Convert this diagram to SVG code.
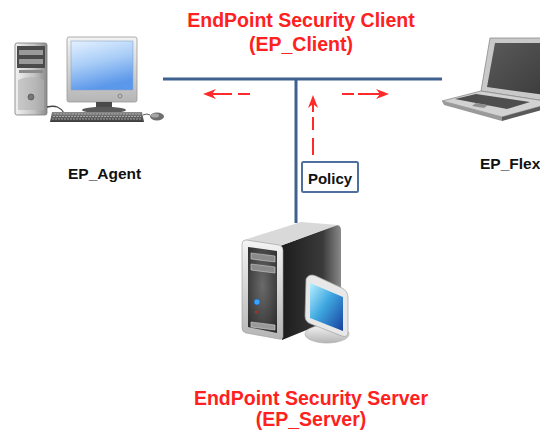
<svg xmlns="http://www.w3.org/2000/svg" width="540" height="433" viewBox="0 0 540 433">
  <style>
    .title { font-family: "Liberation Sans", Arial, sans-serif; font-weight: bold; font-size: 19.5px; fill: #ff2020; text-anchor: middle; }
    .label { font-family: "Liberation Sans", Arial, sans-serif; font-weight: bold; font-size: 15.5px; fill: #111; }
    .bus { stroke: #3f6190; stroke-width: 3; fill: none; }
    .flow { stroke: #ff2a2a; stroke-width: 2; fill: none; }
  </style>
  <defs>
    <marker id="head" viewBox="0 -6 13 12" refX="10" refY="0" markerWidth="13" markerHeight="12" markerUnits="userSpaceOnUse" orient="auto">
      <path d="M0,-5 L13,0 L0,5 L4,0 Z" fill="#ff2a2a"/>
    </marker>
    <linearGradient id="silverH" x1="0" y1="0" x2="1" y2="0">
      <stop offset="0" stop-color="#f2f2f2"/>
      <stop offset="0.6" stop-color="#c4c4c4"/>
      <stop offset="1" stop-color="#8c8c8c"/>
    </linearGradient>
    <linearGradient id="silverV" x1="0" y1="0" x2="0" y2="1">
      <stop offset="0" stop-color="#f4f4f4"/>
      <stop offset="1" stop-color="#b5b5b5"/>
    </linearGradient>
    <linearGradient id="pcScreen" x1="0" y1="0" x2="0.3" y2="1">
      <stop offset="0" stop-color="#e4f1ff"/>
      <stop offset="0.5" stop-color="#a9cdf7"/>
      <stop offset="1" stop-color="#5b97ea"/>
    </linearGradient>
    <linearGradient id="darkSide" x1="0" y1="0" x2="1" y2="0">
      <stop offset="0" stop-color="#1b1b1b"/>
      <stop offset="0.7" stop-color="#3a3a3a"/>
      <stop offset="1" stop-color="#8a8a8a"/>
    </linearGradient>
    <radialGradient id="darkFront" cx="0.5" cy="0.45" r="0.7">
      <stop offset="0" stop-color="#6a6a6a"/>
      <stop offset="1" stop-color="#2c2c2c"/>
    </radialGradient>
    <linearGradient id="lcdScreen" x1="0" y1="0" x2="1" y2="1">
      <stop offset="0" stop-color="#b8f0ff"/>
      <stop offset="0.45" stop-color="#3fa8e0"/>
      <stop offset="1" stop-color="#163f9e"/>
    </linearGradient>
    <linearGradient id="keys" x1="0" y1="0" x2="0" y2="1">
      <stop offset="0" stop-color="#8a8a8a"/>
      <stop offset="1" stop-color="#3a3a3a"/>
    </linearGradient>
    <linearGradient id="lidScreen" x1="0" y1="0" x2="1" y2="1">
      <stop offset="0" stop-color="#5a5a5a"/>
      <stop offset="1" stop-color="#3c3c3c"/>
    </linearGradient>
  </defs>

  <!-- bus lines and policy flow -->
  <g id="connectors">
    <line class="bus" x1="163" y1="79" x2="442" y2="79"/>
    <line class="bus" x1="296" y1="79" x2="296" y2="223"/>
    <path class="flow" d="M250,94 H238 M232,94 H206" marker-end="url(#head)"/>
    <path class="flow" d="M342,94 H354 M358,94 H386" marker-end="url(#head)"/>
    <path class="flow" d="M313,155 V138 M313,130 V117 M313,112 V98" marker-end="url(#head)"/>
  </g>

  <!-- titles -->
  <g id="client-title">
    <text class="title" x="301" y="27">EndPoint Security Client</text>
    <text class="title" x="301" y="51">(EP_Client)</text>
  </g>
  <g id="server-title">
    <text class="title" x="311" y="405">EndPoint Security Server</text>
    <text class="title" x="311" y="426">(EP_Server)</text>
  </g>

  <!-- policy tag -->
  <g id="policy">
    <rect x="302" y="162" width="56" height="30" rx="1.5" fill="#fff" stroke="#4f6f9f" stroke-width="2"/>
    <text class="label" x="330" y="184" text-anchor="middle" style="font-size:15px">Policy</text>
  </g>

  <!-- desktop workstation -->
  <g id="ep-agent">
    <!-- tower -->
    <rect x="15" y="43" width="32" height="72" rx="2" fill="url(#silverH)" stroke="#7a7a7a" stroke-width="0.8"/>
    <rect x="17" y="46" width="28" height="22" fill="#4b4b4b"/>
    <rect x="19" y="50" width="24" height="5" fill="#9a9a9a"/>
    <rect x="19" y="59" width="24" height="5" fill="#9a9a9a"/>
    <rect x="19" y="70" width="24" height="3" fill="#8a8a8a"/>
    <path d="M18,80 Q31,74 44,80 L44,110 L18,110 Z" fill="#b0b0b0" opacity="0.6"/>
    <circle cx="31" cy="97" r="3" fill="#777" stroke="#444" stroke-width="0.6"/>
    <!-- cable -->
    <path d="M47,107 C56,105 60,107 64,113" stroke="#444" stroke-width="1.3" fill="none"/>
    <!-- monitor -->
    <rect x="67" y="37" width="70" height="65" rx="2" fill="url(#silverV)" stroke="#9a9a9a" stroke-width="0.8"/>
    <rect x="71" y="41" width="62" height="49" fill="url(#pcScreen)" stroke="#8aa6c8" stroke-width="0.6"/>
    <circle cx="120" cy="96" r="2" fill="#bbb" stroke="#666" stroke-width="0.6"/>
    <rect x="96" y="102" width="16" height="7" fill="#4a4a4a"/>
    <ellipse cx="104" cy="110" rx="22" ry="3.2" fill="#5a5a5a"/>
    <!-- keyboard -->
    <path d="M52,112 L142,112 L144,122 L50,122 Z" fill="url(#keys)"/>
    <path d="M54,114 H140 M53,116.5 H141 M52,119 H142" stroke="#b8b8b8" stroke-width="0.8" stroke-dasharray="2 1"/>
    <!-- mouse -->
    <path d="M143,115 Q147,113 150,115" stroke="#555" stroke-width="1" fill="none"/>
    <ellipse cx="157" cy="116.5" rx="7" ry="4" fill="#6e6e6e"/>
    <ellipse cx="155" cy="115.5" rx="4" ry="2" fill="#a5a5a5"/>
  </g>
  <g id="ep-agent-label">
    <text class="label" x="68" y="179">EP_Agent</text>
  </g>

  <!-- laptop -->
  <g id="ep-flex">
    <!-- lid -->
    <path d="M490,38 L545,38 L545,101 L481,91 Z" fill="#c9c9c9" stroke="#8a8a8a" stroke-width="0.8"/>
    <path d="M495,43 L545,43 L545,95 L487,87 Z" fill="url(#lidScreen)"/>
    <!-- base deck -->
    <path d="M481,91 L545,101 L545,105 L502,117 L442,101 Z" fill="#d2d2d2" stroke="#8a8a8a" stroke-width="0.8"/>
    <path d="M476,94 L530,102 L507,109 L455,99 Z" fill="#4e4e4e"/>
    <path d="M476,103 L488,105 L484,108 L472,106 Z" fill="#8e8e8e"/>
    <!-- front edge -->
    <path d="M442,101 L502,117 L502,121 L444,105 Z" fill="#9a9a9a"/>
    <path d="M502,117 L545,105 L545,109 L502,121 Z" fill="#5a5a5a"/>
  </g>
  <g id="ep-flex-label">
    <text class="label" x="480" y="169">EP_Flex</text>
  </g>

  <!-- server with console -->
  <g id="ep-server">
    <!-- side -->
    <path d="M280,246 L336,225 Q341,225 341,230 L341,316 L282,340 Z" fill="url(#darkSide)"/>
    <!-- top -->
    <path d="M244,240 L301,222 L338,225 L280,246 Z" fill="#d9d9d9"/>
    <!-- front -->
    <path d="M246,240 L279,245 Q283,246 283,250 L283,336 Q283,340 279,339 L246,333 Q242,332 242,328 L242,244 Q242,240 246,240 Z" fill="url(#silverV)" stroke="#9a9a9a" stroke-width="0.6"/>
    <path d="M248,247 L277,251 L277,333 L248,327 Z" fill="url(#darkFront)"/>
    <path d="M251,253 L275,256 L275,262 L251,259 Z" fill="#8a8a8a" stroke="#cfcfcf" stroke-width="0.6"/>
    <path d="M251,264 L275,267 L275,273 L251,270 Z" fill="#8a8a8a" stroke="#cfcfcf" stroke-width="0.6"/>
    <circle cx="257" cy="302" r="3" fill="#3aa2ff" stroke="#1a5fb0" stroke-width="0.6"/>
    <circle cx="256" cy="312" r="1.1" fill="#e52222"/>
    <path d="M251,322 L275,325 L275,330 L251,327 Z" fill="#9a9a9a" stroke="#d5d5d5" stroke-width="0.6"/>
    <!-- console stand -->
    <ellipse cx="327" cy="334" rx="22" ry="9" fill="url(#silverV)" stroke="#a5a5a5" stroke-width="0.6"/>
    <!-- console panel -->
    <path d="M306,279 Q309,273 316,276 L342,288 Q348,291 348,298 L348,332 Q348,338 342,336 L311,324 Q305,322 305,316 Z" fill="#e8e8e8" stroke="#a0a0a0" stroke-width="0.7"/>
    <path d="M310,283 L343,297 L343,331 L310,318 Z" fill="url(#lcdScreen)"/>
  </g>
</svg>
